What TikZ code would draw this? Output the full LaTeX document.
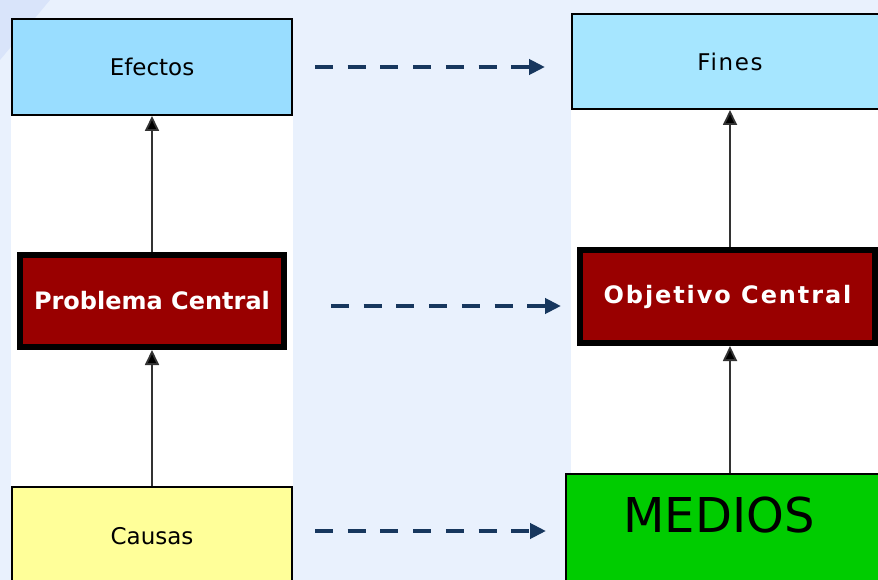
\documentclass[tikz,border=0pt]{standalone}
\usepackage{fontspec}
\setmainfont{DejaVu Sans}
\usetikzlibrary{arrows.meta,calc}
\definecolor{fondo}{HTML}{E9F1FD}
\definecolor{fondoesq}{HTML}{D9E4FA}
\definecolor{celeste}{HTML}{99DDFF}
\definecolor{celesteclaro}{HTML}{A6E6FF}
\definecolor{amarillo}{HTML}{FFFF99}
\definecolor{granate}{HTML}{990000}
\definecolor{verde}{HTML}{00CC00}
\definecolor{azulosc}{HTML}{17375E}

\begin{document}
\begin{tikzpicture}[x=1pt,y=-1pt,
    caja/.style={draw=black,line width=2pt,font=\fontsize{23}{27}\selectfont},
    central/.style={draw=black,line width=6pt,fill=granate,text=white,font=\bfseries\fontsize{24}{28}\selectfont},
    sube/.style={draw=black!80,line width=1.8pt,-{Triangle[length=15pt,width=14pt,fill=black]}},
    pasa/.style={draw=azulosc,line width=4.5pt,dash pattern=on 18pt off 14.7pt,-{Triangle[length=16pt,width=15pt]}}]
    \useasboundingbox(0,0)rectangle(878,580);
    \clip(0,0)rectangle(878,580);
    % fondo
    \fill[fondo](0,0)rectangle(878,580);
    \fill[fondoesq](0,0)--(50,0)--(0,60)--cycle;
    \fill[white](11,110)rectangle(293,490);
    \fill[white](571,105)rectangle(878,476);
    % arbol de problemas
    \node[caja,fill=celeste,minimum width=280pt,minimum height=96pt](efectos)at(152,67){Efectos};
    \node[central,minimum width=264pt,minimum height=92pt](problema)at(152,301){Problema Central};
    \node[caja,fill=amarillo,minimum width=280pt,minimum height=98pt](causas)at(152,536){Causas};
    % arbol de objetivos
    \node[caja,fill=celesteclaro,minimum width=316pt,minimum height=95pt](fines)at(730,61.5){\addfontfeature{LetterSpace=7}Fines};
    \node[central,minimum width=295pt,minimum height=93pt](objetivo)at(727.5,296.5){\addfontfeature{LetterSpace=8}Objetivo Central};
    \node[caja,fill=verde,anchor=north west,minimum width=330pt,minimum height=130pt](medios)at(565,473){};
    \node[font=\fontsize{48}{56}\selectfont,anchor=base](mediostxt)at(719,532){MEDIOS};
    % flechas verticales
    \draw[sube](problema.north)--(efectos.south);
    \draw[sube](causas.north)--(problema.south);
    \draw[sube](objetivo.north -| fines.south)--(fines.south);
    \draw[sube](medios.north -| fines.south)--(objetivo.south -| fines.south);
    % flechas punteadas
    \draw[pasa,shorten <=22pt,shorten >=26pt](efectos.east)--(efectos.east -| fines.west);
    \draw[pasa,shorten <=44pt,shorten >=16pt]([yshift=-5pt]problema.east)--([yshift=-5pt]problema.east -| objetivo.west);
    \draw[pasa,shorten <=22pt,shorten >=19pt]([yshift=5pt]causas.east)--([yshift=5pt]causas.east -| medios.west);
\end{tikzpicture}
\end{document}
